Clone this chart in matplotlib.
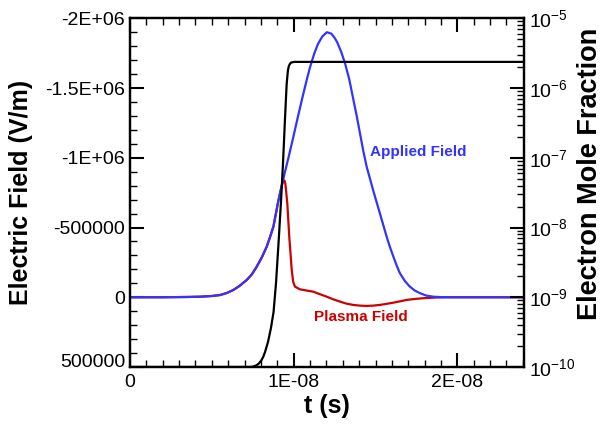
import numpy as np
import matplotlib
matplotlib.use("Agg")
import matplotlib.pyplot as plt
from matplotlib.ticker import FixedLocator, FixedFormatter, MultipleLocator, LogLocator, NullFormatter

plt.rcParams['font.family'] = ['Liberation Sans', 'DejaVu Sans']

# time in ns, field in V/m
t_applied = [0, 2.0, 3.5, 4.28, 5.0, 5.5, 5.9, 6.31, 6.7, 7.13, 7.45, 7.74, 8.05, 8.35, 8.55,
             8.76, 9.06, 9.27, 9.47, 9.7, 9.96, 10.25, 10.57, 10.8, 11.0, 11.25, 11.48, 11.75,
             12.03, 12.3, 12.5, 12.65, 12.9, 13.13, 13.4, 13.64, 13.85, 14.05, 14.25, 14.46,
             14.66, 14.86, 15.07, 15.27, 15.48, 15.68, 15.88, 16.09, 16.29, 16.49, 16.8, 17.1,
             17.4, 17.72, 18.1, 18.53, 19.0, 19.5, 24.1]
e_applied = [0, 0, -2e3, -4e3, -9e3, -16e3, -30e3, -52e3, -82e3, -124e3, -165e3, -219e3,
             -285e3, -362e3, -430e3, -506e3, -690e3, -800e3, -900e3, -1010e3, -1140e3,
             -1290e3, -1450e3, -1560e3, -1650e3, -1745e3, -1815e3, -1870e3, -1900e3, -1890e3,
             -1860e3, -1830e3, -1760e3, -1680e3, -1560e3, -1420e3, -1300e3, -1175e3, -1050e3,
             -935e3, -850e3, -765e3, -680e3, -600e3, -515e3, -434e3, -360e3, -291e3, -228e3,
             -172e3, -115e3, -76e3, -48e3, -29e3, -12e3, -4e3, -1e3, 0, 0]

t_plasma = [0, 2.0, 3.5, 4.28, 5.0, 5.5, 5.9, 6.31, 6.7, 7.13, 7.45, 7.74, 8.05, 8.35, 8.55,
            8.76, 9.06, 9.27, 9.33, 9.39, 9.44, 9.49, 9.53, 9.61, 9.73, 9.88, 9.97, 10.08,
            10.38, 10.8, 11.2, 11.6, 12.02, 12.4, 12.83, 13.2, 13.64, 14.05, 14.46, 14.85,
            15.27, 15.68, 16.08, 16.5, 16.9, 17.5, 18.12, 18.7, 19.35, 24.1]
e_plasma = [0, 0, -2e3, -4e3, -9e3, -16e3, -30e3, -52e3, -82e3, -124e3, -165e3, -219e3,
            -285e3, -362e3, -430e3, -506e3, -690e3, -800e3, -825e3, -838e3, -836e3, -815e3,
            -770e3, -673e3, -434e3, -196e3, -110e3, -76e3, -57e3, -48e3, -40e3, -22e3, -4e3,
            14e3, 31e3, 45e3, 55e3, 60e3, 62e3, 60e3, 55e3, 47e3, 39e3, 29e3, 19e3, 11e3,
            5e3, 2e3, 0, 0]

# electron mole fraction (log10)
t_elec = [0, 7.33, 7.5, 7.70, 7.85, 8.00, 8.13, 8.25, 8.43, 8.61, 8.77, 8.92, 9.07, 9.23,
          9.35, 9.47, 9.57, 9.61, 9.65, 9.70, 9.74, 9.83, 10.02, 24.1]
log_elec = [-10.0, -10.0, -9.996, -9.979, -9.955, -9.914, -9.86, -9.785, -9.642, -9.441,
            -9.212, -8.797, -8.238, -7.607, -7.063, -6.433, -5.946, -5.84, -5.745, -5.69,
            -5.666, -5.636, -5.625, -5.625]

left_ticks = [500000, 0, -500000, -1e6, -1.5e6, -2e6]
left_labels = ['500000', '0', '-500000', '-1E+06', '-1.5E+06', '-2E+06']
x_ticks = [0, 1e-8, 2e-8]
x_labels = ['0', '1E-08', '2E-08']

t_applied = np.array(t_applied) * 1e-9
t_plasma = np.array(t_plasma) * 1e-9
t_elec = np.array(t_elec) * 1e-9
elec = 10 ** np.array(log_elec)

fig = plt.figure(figsize=(6.08, 4.26), dpi=100)
ax = fig.add_axes([130 / 608, 1 - 367 / 426, 394 / 608, (367 - 18.3) / 426])

ax.plot(t_plasma, e_plasma, color='#cc0000', lw=1.6)
ax.plot(t_applied, e_applied, color='#3333ff', lw=1.6)
ax.set_xlim(0, 2.407e-8)
ax.set_ylim(500000, -2e6)

ax.xaxis.set_major_locator(FixedLocator(x_ticks))
ax.xaxis.set_major_formatter(FixedFormatter(x_labels))
ax.xaxis.set_minor_locator(MultipleLocator(1e-9))
ax.yaxis.set_major_locator(FixedLocator(left_ticks))
ax.yaxis.set_major_formatter(FixedFormatter(left_labels))
ax.yaxis.set_minor_locator(MultipleLocator(100000))
ax.tick_params(which='both', direction='in', top=True, right=False, labelsize=14, width=1.5)
ax.tick_params(which='major', length=10)
ax.tick_params(which='minor', length=5, width=1)
ax.tick_params(axis='x', pad=5)
for s in ax.spines.values():
    s.set_linewidth(1.6)

ax.text(17.6e-9, -1.04e6, 'Applied Field', color='#3333ff', fontsize=11, fontweight='bold',
        ha='center', va='center')
ax.text(14.1e-9, 141000, 'Plasma Field', color='#cc0000', fontsize=11, fontweight='bold',
        ha='center', va='center')

ax.set_xlabel('t (s)', fontsize=18, fontweight='bold', labelpad=2)
ax.set_ylabel('Electric Field (V/m)', fontsize=18, fontweight='bold')
ax.yaxis.set_label_coords(-0.245, 0.5)

ax2 = ax.twinx()
ax2.plot(t_elec, elec, color='black', lw=1.6)
ax2.set_yscale('log')
ax2.set_ylim(1e-10, 1e-5)
ax2.yaxis.set_major_locator(LogLocator(base=10, numticks=10))
ax2.yaxis.set_minor_locator(LogLocator(base=10, subs=np.arange(2, 10), numticks=10))
ax2.yaxis.set_minor_formatter(NullFormatter())
ax2.tick_params(which='both', direction='in', labelsize=14, width=1.5)
ax2.tick_params(which='major', length=10)
ax2.tick_params(which='minor', length=5, width=1)
ax2.set_ylabel('Electron Mole Fraction', fontsize=19.5, fontweight='bold')
ax2.yaxis.set_label_coords(1.135, 0.553)
for s in ax2.spines.values():
    s.set_linewidth(1.6)

# the bottom left label sits a little above its tick
fig.canvas.draw()
ax.get_yticklabels()[0].set_verticalalignment('baseline')

fig.savefig('out.png', dpi=100)
